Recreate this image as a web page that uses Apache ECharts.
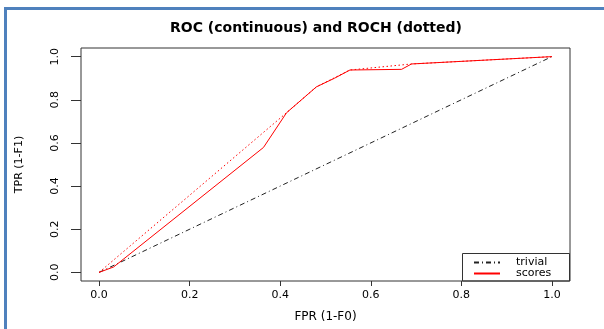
<!DOCTYPE html>
<html>
<head>
<meta charset="utf-8">
<script src="https://cdn.jsdelivr.net/npm/echarts@6/dist/echarts.min.js"></script>
<style>html,body{margin:0;padding:0;background:#fff}#c{width:604px;height:329px}</style>
</head>
<body>
<div id="c"></div>
<script>
// ---- data ----
const titleText = 'ROC (continuous) and ROCH (dotted)';
const xTitle = 'FPR (1-F0)';
const yTitle = 'TPR (1-F1)';
const tickValues = [0, 0.2, 0.4, 0.6, 0.8, 1.0];
const legendNames = ['trivial', 'scores'];
const trivialX = [0, 1];
const trivialY = [0, 1];
const rocX = [0, 0.032, 0.363, 0.414, 0.48, 0.52, 0.554, 0.668, 0.69, 1.0];
const rocY = [0, 0.025, 0.579, 0.74, 0.86, 0.90, 0.938, 0.941, 0.966, 1.0];
const rochX = [0, 0.414, 0.48, 0.554, 0.69, 1.0];
const rochY = [0, 0.74, 0.86, 0.938, 0.966, 1.0];

const pairs = (xs, ys) => xs.map((x, i) => [x, ys[i]]);
const chart = echarts.init(document.getElementById('c'), null, {renderer: 'canvas'});
const F = 'DejaVu Sans';
chart.setOption({
  animation: false,
  backgroundColor: '#fff',
  title: {
    text: titleText, left: 316, top: 21, textAlign: 'center', padding: 0,
    textStyle: {fontFamily: F, fontSize: 14, fontWeight: 'bold', color: '#000'}
  },
  grid: {left: 81, right: 34, top: 48, bottom: 48, containLabel: false,
         show: true, borderColor: '#333', borderWidth: 1, backgroundColor: 'transparent'},
  xAxis: {
    type: 'value', min: -0.04, max: 1.04,
    name: xTitle, nameLocation: 'middle', nameGap: 30,
    nameTextStyle: {fontFamily: F, fontSize: 12, color: '#000'},
    axisLine: {show: false, onZero: false},
    axisTick: {show: true, inside: false, length: 5, customValues: tickValues, lineStyle: {color: '#333'}},
    axisLabel: {margin: 9, customValues: tickValues, fontFamily: F, fontSize: 11, color: '#000', formatter: v => v.toFixed(1)},
    splitLine: {show: false}
  },
  yAxis: {
    type: 'value', min: -0.04, max: 1.04,
    name: yTitle, nameLocation: 'middle', nameGap: 56, nameRotate: 90,
    nameTextStyle: {fontFamily: F, fontSize: 11, color: '#000'},
    axisLine: {show: false, onZero: false},
    axisTick: {show: true, inside: false, length: 10, customValues: tickValues, lineStyle: {color: '#333'}},
    axisLabel: {margin: 20, rotate: 90, customValues: tickValues, fontFamily: F, fontSize: 11, color: '#000', formatter: v => v.toFixed(1)},
    splitLine: {show: false}
  },
  legend: {
    data: legendNames, orient: 'vertical', left: 473, top: 257, padding: 0,
    itemWidth: 26, itemHeight: 10, itemGap: 0,
    itemStyle: {opacity: 0},
    textStyle: {fontFamily: F, fontSize: 11, color: '#000', padding: [0, 0, 0, 11], lineHeight: 10}
  },
  graphic: [
    {type: 'rect', shape: {x: 5.5, y: 8.5, width: 700, height: 400}, style: {fill: null, stroke: '#4f81bd', lineWidth: 3}, silent: true},
    {type: 'rect', shape: {x: 462.5, y: 253.5, width: 107, height: 27.5}, style: {fill: null, stroke: '#333', lineWidth: 1}, silent: true}
  ],
  series: [
    {name: 'trivial', type: 'line', symbol: 'none', data: pairs(trivialX, trivialY),
     lineStyle: {color: '#222', width: 1, type: [5, 3, 1, 3]}, itemStyle: {color: '#222'}},
    {name: 'scores', type: 'line', symbol: 'none', data: pairs(rocX, rocY),
     lineStyle: {color: '#ff0000', width: 1}, itemStyle: {color: '#ff0000'}},
    {name: 'ROCH', type: 'line', symbol: 'none', data: pairs(rochX, rochY),
     lineStyle: {color: '#ff0000', width: 1, type: [1.5, 2.5]}, itemStyle: {color: '#ff0000'}}
  ]
});
</script>
</body>
</html>
